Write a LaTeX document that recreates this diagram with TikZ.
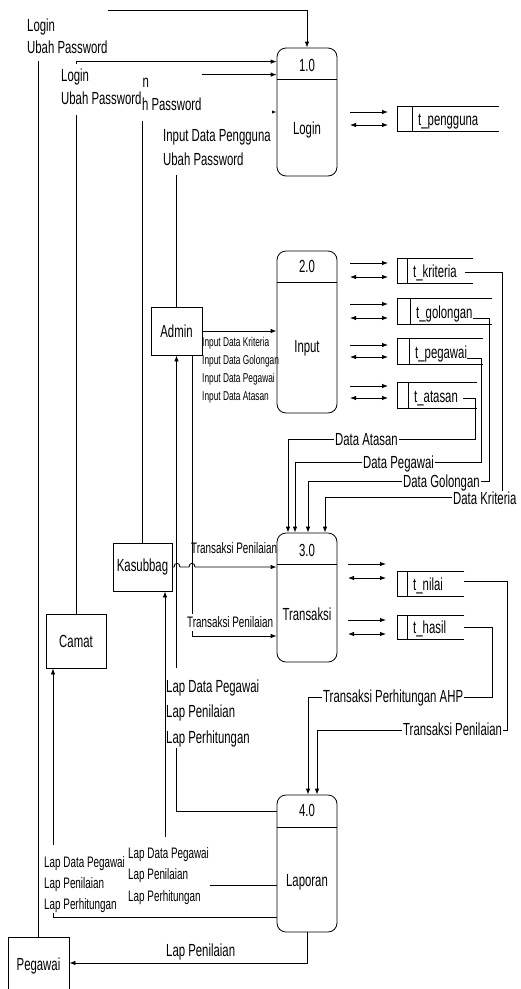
\documentclass[tikz,border=0pt]{standalone}
\usepackage{fontspec}
\setmainfont{Liberation Sans}[FakeStretch=0.65]
\usetikzlibrary{arrows.meta}
\newcommand\tophold[1]{\rule{0pt}{#1pt}}
\newcommand\bothold[1]{\rule[-#1pt]{0pt}{#1pt}}
\newcommand\dstore[7]{%
  \node[storearea, anchor=north west, minimum width=#4pt-#2pt, minimum height=#5pt-#3pt] (s#1) at (#2,#3) {};
  \draw[ln] (s#1.north east) -- (s#1.north west) -- (s#1.south west) -- (s#1.south east);
  \draw[ln] (#6,#3) -- (#6,#5);
  \node[txt, anchor=base west] (t#1) at (#6+6,#5-6) {#7};
}
\begin{document}
\begin{tikzpicture}[x=1pt,y=-1pt,
  every node/.style={font=\fontsize{17.5}{22.5}\selectfont},
  ln/.style={line width=0.8pt},
  flow/.style={ln, -{Latex[length=6pt,width=4.5pt]}},
  dbl/.style={ln, {Latex[length=6pt,width=4.5pt]}-{Latex[length=6pt,width=4.5pt]}},
  proc/.style={draw, ln, rounded corners=9pt, minimum width=60pt, inner sep=0pt},
  ent/.style={draw, ln, inner sep=0pt},
  storearea/.style={inner sep=0pt},
  txt/.style={inner sep=0pt},
  lbl/.style={fill=white, inner ysep=0pt, inner xsep=1pt, align=left, anchor=north west},
  plain/.style={inner sep=0pt, align=left, anchor=north west},
  fbig/.style={font=\fontsize{17.5}{22.5}\selectfont},
  fmid/.style={font=\fontsize{15.2}{21.5}\selectfont},
  fsml/.style={font=\fontsize{12.8}{17.8}\selectfont}
]
\useasboundingbox (0,0) rectangle (520,989);
\fill[white] (0,0) rectangle (520,989);

% processes
\node[proc, minimum height=128pt] (p1) at (307,112) {};
\node[proc, minimum height=162pt] (p2) at (307,332) {};
\node[proc, minimum height=129pt] (p3) at (307,597.5) {};
\node[proc, minimum height=137pt] (p4) at (307,863.5) {};
\draw[ln] (p1.west |- 0,79) -- (p1.east |- 0,79);
\draw[ln] (p2.west |- 0,282) -- (p2.east |- 0,282);
\draw[ln] (p3.west |- 0,564) -- (p3.east |- 0,564);
\draw[ln] (p4.west |- 0,827) -- (p4.east |- 0,827);
\node[txt, anchor=base] (p1n) at (307,71) {1.0};
\node[txt, anchor=base] (p1t) at (307,134) {Login};
\node[txt, anchor=base] (p2n) at (307,272) {2.0};
\node[txt, anchor=base] (p2t) at (307,352.5) {Input};
\node[txt, anchor=base] (p3n) at (307,556) {3.0};
\node[txt, anchor=base] (p3t) at (307,620) {Transaksi};
\node[txt, anchor=base] (p4n) at (307,816) {4.0};
\node[txt, anchor=base] (p4t) at (307,886) {Laporan};

% entities
\node[ent, minimum width=51pt, minimum height=48pt] (admin) at (176.5,331) {Admin};
\node[ent, minimum width=59pt, minimum height=48pt] (kas) at (142.5,567) {Kasubbag};
\node[ent, minimum width=60pt, minimum height=54pt] (camat) at (76,641) {Camat};
\node[ent, minimum width=61pt, minimum height=58pt] (peg) at (38.5,966) {Pegawai};

% data stores
\dstore{pen}{397}{106}{499}{131}{412}{t\_pengguna}
\dstore{kri}{397}{258}{473}{283}{407}{t\_kriteria}
\dstore{gol}{397}{298}{492}{324}{410}{t\_golongan}
\dstore{peg}{397}{338}{483}{364}{409}{t\_pegawai}
\dstore{ata}{397}{382}{477}{408}{408}{t\_atasan}
\dstore{nil}{397}{571}{464}{596}{407}{t\_nilai}
\dstore{has}{397}{615}{464}{639}{407}{t\_hasil}

% process <-> store arrows
\foreach \ya/\yb in {112/125, 263/277, 304/318, 345/357, 386/398} {
  \draw[flow] (350,\ya) -- (388,\ya);
  \draw[dbl] (350,\yb) -- (388,\yb);
}
\foreach \ya/\yb in {564/578, 620/634} {
  \draw[flow] (348,\ya) -- (386,\ya);
  \draw[dbl] (348,\yb) -- (386,\yb);
}

% flows to 1.0
\draw[flow] (peg.north) |- ([yshift=37pt]p1.north) -- (p1.north);
\draw[flow] (camat.north) |- ([yshift=-14pt]p1.north west);
\draw[flow] (kas.north) |- ([yshift=-27pt]p1.north west);
\draw[flow] (admin.north) |- (p1.west);

% Admin -> 2.0
\draw[flow] (admin.east) -- (admin.east -| p2.west);

% to 3.0
\draw[flow] ([xshift=15.5pt]admin.south) |- ([yshift=-38.5pt]p3.west);
\draw[flow] (kas.east) -- (174,567) .. controls (174,562) and (180,562) .. (180,567)
   -- (189,567) .. controls (189,562) and (195,562) .. (195,567) -- ([yshift=30.5pt]p3.west);
\draw[flow] ([xshift=8pt]tkri.east) -| (502,497.5) -| ([xshift=18pt]p3.north);
\draw[flow] (tgol.base east) -| (489,481) -| ([xshift=1pt]p3.north);
\draw[flow] (tpeg.base east) -| (481,462) -| ([xshift=-12pt]p3.north);
\draw[flow] ([xshift=5pt]tata.east) -| (475,439) -| ([xshift=-19pt]p3.north);

% to 4.0
\draw[flow] ([yshift=2pt]snil.east) -| (507,730) -| ([xshift=10pt]p4.north);
\draw[flow] (shas.east) -| (492,697) -| ([xshift=1pt]p4.north);

% from 4.0
\draw[flow] ([yshift=52.5pt]p4.west) -| (admin.south);
\draw[flow] ([yshift=-53.5pt]p4.west) -| ([xshift=-23pt]camat.south);
\draw[flow] ([yshift=-21.5pt]p4.west) -| ([xshift=22.5pt]kas.south);
\draw[flow] (p4.south) |- ([yshift=3pt]peg.east);

% labels
\node[lbl, font=\fontsize{17.5}{24}\selectfont] (l4) at (162,106) {\tophold{35.7}Input Data Pengguna\\Ubah Password\bothold{9.3}};
\node[lbl, font=\fontsize{17.5}{23}\selectfont] (l3) at (120,73) {\tophold{14}Login\\Ubah Password\bothold{11}};
\node[lbl, font=\fontsize{17.5}{22.5}\selectfont] (l2) at (60,63.5) {\tophold{18}Login\\Ubah Password\bothold{11}};
\node[lbl, font=\fontsize{17.5}{22.5}\selectfont] (l1) at (26,9.8) {\tophold{21}Login\\Ubah Password\bothold{7.7}};
\node[plain, fsml] (l5) at (202,336.7) {\tophold{10}Input Data Kriteria\\Input Data Golongan\\Input Data Pegawai\\Input Data Atasan\bothold{3}};
\node[txt, fmid, anchor=base west] (l6) at (191,553.5) {Transaksi Penilaian};
\node[lbl, fmid] (l7) at (186,614) {\tophold{13}Transaksi Penilaian\bothold{4}};
\node[lbl, inner xsep=0pt, font=\fontsize{17.5}{25.5}\selectfont] (l8) at (166,668) {\tophold{24}Lap Data Pegawai\\Lap Penilaian\\Lap Perhitungan\bothold{5}};
\node[lbl, font=\fontsize{15.2}{21.5}\selectfont] (l9) at (127,837) {\tophold{21}Lap Data Pegawai\\Lap Penilaian\\Lap Perhitungan\bothold{5}};
\node[lbl, font=\fontsize{15.2}{21}\selectfont] (l10) at (43,845) {\tophold{22}Lap Data Pegawai\\Lap Penilaian\\Lap Perhitungan\bothold{3.5}};
\node[txt, fbig, anchor=base west] (l11) at (166,956) {Lap Penilaian};

\node[lbl, fbig, anchor=base west] (dkr) at (452,504) {Data Kriteria\bothold{2}};
\node[lbl, fbig] (dgo) at (402,474) {\tophold{13}Data Golongan\bothold{3.8}};
\node[lbl, fbig] (dpe) at (362,455) {\tophold{13}Data Pegawai\bothold{4}};
\node[lbl, fbig] (dat) at (334,432) {\tophold{13}Data Atasan\bothold{2}};
\node[lbl, fbig] (dahp) at (322,689) {\tophold{13}Transaksi Perhitungan AHP\bothold{4}};
\node[lbl, fbig] (dnil) at (402,722) {\tophold{13}Transaksi Penilaian\bothold{2}};
\end{tikzpicture}
\end{document}
